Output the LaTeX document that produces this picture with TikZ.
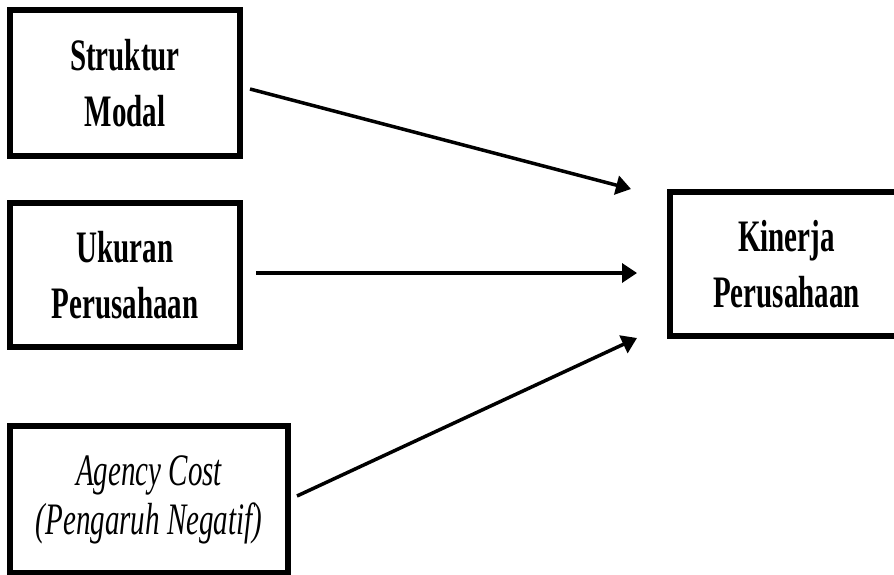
\documentclass[tikz,border=0pt]{standalone}
\usepackage{fontspec}
\usepackage{tikz}
\usetikzlibrary{arrows.meta}

\newfontfamily\condserif[FakeStretch=0.645]{Liberation Serif}

\begin{document}
\begin{tikzpicture}[x=1pt,y=-1pt,
    varbox/.style={rectangle,draw,line width=6pt,inner sep=0pt,outer sep=0pt,
      align=center,font=\condserif\bfseries\fontsize{45}{56}\selectfont},
    effect/.style={line width=3.5pt,-{Triangle[length=15pt,width=19pt]}}]

\useasboundingbox (0,0) rectangle (894,575);

% Independent variables on the left
\node[varbox,minimum width=230pt,minimum height=146pt] (sm) at (125,83) {Struktur\\Modal};
\node[varbox,minimum width=230pt,minimum height=144pt] (up) at (125,275) {Ukuran\\Perusahaan};
\node[varbox,minimum width=278pt,minimum height=147pt,
      font=\condserif\itshape\fontsize{45}{49}\selectfont] (ac) at (149,499.5) {Agency Cost\\(Pengaruh Negatif)};

% Dependent variable on the right
\node[varbox,minimum width=233pt,minimum height=143.5pt] (kp) at (786.5,264) {Kinerja\\Perusahaan};

% Arrows
\draw[effect] ([xshift=10pt,yshift=-6pt]sm.east) -- ([xshift=-39pt,yshift=75pt]kp.west);
\draw[effect] ([xshift=16pt,yshift=2pt]up.east) -- ([xshift=-33pt,yshift=-9pt]kp.west);
\draw[effect] ([xshift=9pt,yshift=3.5pt]ac.east) -- ([xshift=-33pt,yshift=-74pt]kp.west);

\end{tikzpicture}
\end{document}
